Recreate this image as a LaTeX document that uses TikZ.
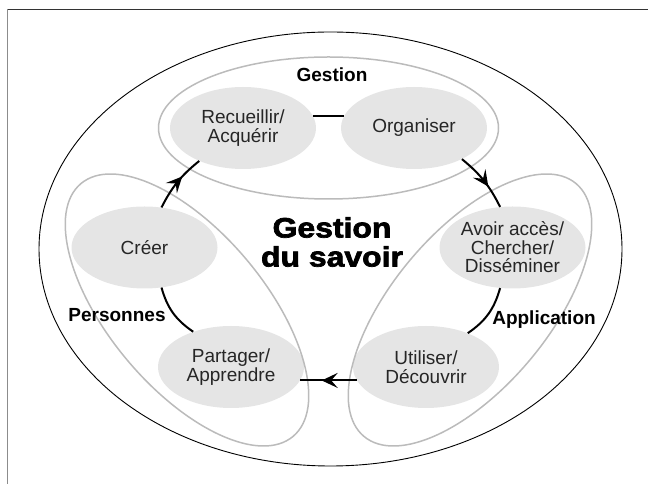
\documentclass[tikz,border=0pt]{standalone}
\usepackage{fontspec}
\setmainfont{Liberation Sans}
\newfontfamily\titlefont{Liberation Sans}[FakeStretch=1.14, BoldFeatures={FakeBold=2.5}]
\usetikzlibrary{shapes.geometric, arrows.meta, decorations.markings}

\definecolor{stagefill}{HTML}{E5E5E5}
\definecolor{groupline}{HTML}{BBBBBB}
\definecolor{labeltext}{HTML}{262626}

\begin{document}
\begin{tikzpicture}[x=1pt, y=1pt,
  stage/.style={ellipse, fill=stagefill, minimum width=146pt, minimum height=82pt,
    inner sep=0pt, align=center, text=labeltext,
    font=\fontsize{19}{18.5}\selectfont},
  group/.style={draw=groupline, line width=1.5pt},
  flow/.style={line width=2pt},
  midarrow/.style={postaction={decorate},
    decoration={markings, mark=at position 0.62 with
      {\arrow{Stealth[length=16pt, width=15pt, inset=6.5pt]}}}},
  tag/.style={anchor=base, inner sep=0pt,
    font=\fontsize{19}{19}\selectfont\bfseries}
]
\useasboundingbox (0,0) rectangle (648,484);

% page frame (top and left rules)
\draw[black!80, line width=1.3pt] (7,474.5) -- (648,474.5);
\draw[black!45, line width=1.2pt] (7.5,475) -- (7.5,0);

% outer boundary
\draw[line width=0.9pt] (330.5,235) ellipse [x radius=291.5, y radius=217];

% the six stages
\node[stage] (recueillir) at (243,356)   {Recueillir/\\Acquérir};
\node[stage] (organiser)  at (414,356)   {Organiser};
\node[stage] (avoir)      at (512.5,236.5) {Avoir accès/\\Chercher/\\Disséminer};
\node[stage] (utiliser)   at (426,117)   {Utiliser/\\Découvrir};
\node[stage] (partager)   at (231,117)   {Partager/\\Apprendre};
\node[stage] (creer)      at (144.5,236.5) {Créer};

% the three groupings
\draw[group] (328.5,356) ellipse [x radius=170, y radius=71];
\draw[group, rotate around={50:(470,174)}] (470,174) ellipse [x radius=165, y radius=78];
\draw[group, rotate around={-50:(187,174)}] (187,174) ellipse [x radius=165, y radius=78];

% group labels
\node[tag] (gestionlbl)     at (332,402) {Gestion};
\node[tag] (personneslbl)   at (117,162) {Personnes};
\node[tag] (applicationlbl) at (544,159) {Application};

% central title
\node[inner sep=0pt, align=center,
      font={\titlefont\fontsize{28}{29}\selectfont\bfseries}] (title) at (332,242)
      {Gestion\\du savoir};

% cycle connectors
\draw[flow] (recueillir.10) -- (organiser.170);
\draw[flow, midarrow] (organiser.-33) to[bend left=12] (avoir.107);
\draw[flow] (avoir.253) to[bend left=20] (utiliser.39);
\draw[flow, midarrow] (utiliser.191) -- (partager.-11);
\draw[flow] (partager.137) to[bend left=20] (creer.-67);
\draw[flow, midarrow] (creer.67) to[bend left=12] (recueillir.217);
\end{tikzpicture}
\end{document}
